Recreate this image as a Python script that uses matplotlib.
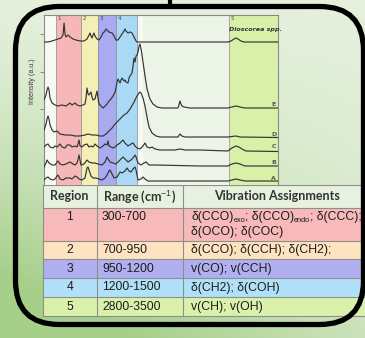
import re
import numpy as np
import matplotlib
matplotlib.use('Agg')
import matplotlib.pyplot as plt
from matplotlib.patches import FancyBboxPatch, Rectangle
from matplotlib.colors import LinearSegmentedColormap

plt.rcParams['mathtext.fontset'] = 'custom'
plt.rcParams['mathtext.rm'] = 'Liberation Sans'
plt.rcParams['mathtext.it'] = 'Liberation Sans:italic'
plt.rcParams['mathtext.bf'] = 'Liberation Sans:bold'

# ---------------- data ----------------
band_edges = [300, 660, 905, 1169, 1468, 2794, 3500]   # drawn bands (cm-1)
band_labels = ['1', '2', '3', '4', None, '5']
band_colors = ['#f5b7b7', '#f4efb4', '#a9abf0', '#a9d9f5', None, '#d9f0a9']

dios_x = [131, 189, 247, 290, 333, 376, 405, 420, 434, 448, 477, 506, 549, 592, 650, 708, 751, 780, 794, 809,
          823, 838, 852, 866, 895, 924, 953, 982, 1011, 1025, 1040, 1068, 1112, 1141, 1169, 1198, 1227, 1256,
          1284, 1299, 1313, 1342, 1371, 1400, 1429, 1458, 1472, 2782, 2826, 2869, 2898, 2927, 2970, 3014, 3500]
dios_y = [142, 142, 143, 144, 145, 146, 149, 161, 150, 147, 149, 147, 145, 144, 143, 143, 145, 149, 151, 148,
          146, 149, 151, 148, 145, 144, 147, 151, 153, 155, 154, 152, 151, 148, 144, 144, 147, 150,
          153, 155, 153, 151, 152, 151, 147, 143, 142, 142, 143, 145, 146, 145, 143, 142, 142]

E_x = [131, 160, 175, 189, 203, 218, 247, 290, 333, 391, 448, 506, 535, 578, 607, 650, 693, 722, 737, 751,
       766, 780, 809, 823, 838, 866, 895, 910, 924, 953, 982, 1011, 1040, 1068, 1097, 1126, 1155, 1169, 1184,
       1198, 1212, 1227, 1241, 1256, 1284, 1299, 1313, 1342, 1357, 1371, 1400, 1414, 1429, 1443, 1458, 1472,
       1486, 1501, 1515, 1530, 1544, 1558, 1587, 1616, 1659, 1702, 1760, 1832, 2062, 2077, 2091, 2106, 2120,
       2149, 2235, 2782, 2840, 2898, 2956, 3028, 3500]
E_y = [84, 89, 94, 97, 94, 86, 81, 79, 78, 79, 78, 81, 79, 81, 79, 78, 79, 80, 86, 96,
       90, 89, 92, 87, 84, 85, 93, 86, 80, 78, 76, 78, 80, 83, 85, 88, 92, 96, 102,
       105, 103, 101, 104, 106, 103, 104, 102, 101, 106, 108, 111, 118, 126, 122, 128, 129,
       132, 138, 140, 135, 129, 122, 108, 95, 85, 80, 77, 76, 76, 79, 83, 80, 78,
       77, 76, 76, 77, 78, 77, 76, 76]

D_x = [131, 160, 175, 189, 203, 218, 247, 275, 319, 362, 434, 506, 578, 650, 722, 766, 823, 881, 939, 982,
       1025, 1068, 1112, 1155, 1198, 1241, 1284, 1328, 1371, 1414, 1443, 1472, 1501, 1515, 1530, 1558, 1587,
       1616, 1645, 1688, 1746, 1803, 2062, 2091, 2120, 2163, 2782, 2840, 2898, 2956, 3500]
D_y = [54, 60, 65, 68, 65, 59, 54, 52, 53, 50, 49, 49, 48, 48, 49, 50, 49, 49, 48, 48,
       50, 53, 56, 60, 63, 66, 69, 71, 75, 80, 84, 88, 91, 92, 91, 86, 78,
       67, 57, 51, 48, 47, 47, 50, 48, 47, 47, 47.5, 48, 47, 46.5]

C_x = [131, 160, 189, 218, 261, 290, 319, 362, 391, 434, 463, 506, 535, 578, 607, 621, 636, 650, 679, 708,
       751, 780, 809, 838, 866, 895, 939, 982, 1011, 1040, 1054, 1068, 1097, 1126, 1155, 1184, 1227, 1256,
       1270, 1299, 1342, 1385, 1414, 1443, 1472, 1515, 1558, 1587, 1616, 1659, 1688, 1731, 1803, 2019, 2091,
       2163, 2307, 2379, 2782, 2840, 2898, 2941, 2985, 3043, 3500]
C_y = [37, 39, 40, 37, 36, 38, 37, 40, 37, 36, 39, 39, 37, 38, 37, 40, 44, 38, 37, 39,
       40, 37, 38, 37, 40, 38, 36, 38, 40, 39, 43, 38, 37, 36, 37, 39, 41, 43,
       44, 41, 38, 40, 41, 38, 36, 35, 38, 41, 37, 36, 37, 35, 34, 34, 35,
       34, 34, 34, 33, 36, 38, 37, 35, 33, 32.5]

B_x = [131, 160, 175, 203, 247, 290, 319, 333, 362, 405, 448, 506, 549, 578, 607, 621, 636, 650, 665, 708,
       751, 780, 823, 866, 910, 967, 1011, 1040, 1054, 1083, 1126, 1169, 1198, 1241, 1270, 1299, 1342, 1385,
       1414, 1443, 1458, 1486, 1530, 1573, 1602, 1645, 1731, 2379, 2782, 2840, 2898, 2956, 3028, 3500]
B_y = [17, 21, 24, 21, 19, 19, 22, 23, 20, 19, 20, 22, 20, 19, 21, 24, 29, 24, 19, 20,
       24, 22, 21, 21, 20, 19, 22, 27, 25, 22, 21, 20, 22, 25, 27, 25, 22, 24,
       26, 29, 27, 21, 19, 21, 22, 19, 19, 18, 18, 20, 21, 20, 18, 18]

A_x = [131, 160, 189, 218, 261, 290, 319, 333, 362, 405, 448, 506, 535, 578, 607, 636, 679, 722, 751, 766,
       780, 809, 838, 881, 924, 967, 1011, 1040, 1068, 1083, 1112, 1141, 1184, 1227, 1256, 1299, 1328, 1357,
       1385, 1414, 1443, 1458, 1486, 1530, 1558, 1587, 1630, 1731, 2782, 2840, 2898, 2956, 3028, 3500]
A_y = [4, 6, 7, 5, 4, 5, 8, 9, 5, 4, 6, 6, 5, 8, 7, 5, 4, 6, 16, 17,
       14, 8, 6, 6, 5, 4, 6, 9, 13, 14, 10, 6, 7, 12, 11, 13, 16, 13,
       12, 15, 17, 14, 4, 5, 7, 5, 3, 3, 3, 4, 5, 4, 3, 3]

spectra = [(dios_x, dios_y, None), (E_x, E_y, 'E'), (D_x, D_y, 'D'),
           (C_x, C_y, 'C'), (B_x, B_y, 'B'), (A_x, A_y, 'A')]
letter_y = {'E': 80, 'D': 50, 'C': 37, 'B': 21, 'A': 6}

tbl_header = ['Region', 'Range (cm$^{-1}$)', 'Vibration Assignments']
tbl_region = ['1', '2', '3', '4', '5']
tbl_range = ['300-700', '700-950', '950-1200', '1200-1500', '2800-3500']
tbl_assign = [['δ(CCO)$_{exo}$; δ(CCO)$_{endo}$; δ(CCC);', 'δ(OCO); δ(COC)'],
              ['δ(CCO); δ(CCH); δ(CH2);'],
              ['v(CO); v(CCH)'],
              ['δ(CH2); δ(COH)'],
              ['v(CH); v(OH)']]
tbl_colors = ['#f7b9b9', '#fde3c0', '#b0b0f1', '#b0e1f8', '#daf1ab']

# ---------------- figure ----------------
W, H = 365, 338
fig = plt.figure(figsize=(W / 100, H / 100), dpi=100)
bg = fig.add_axes([0, 0, 1, 1])
bg.set_xlim(0, W)
bg.set_ylim(H, 0)
bg.axis('off')
renderer = fig.canvas.get_renderer()

yy, xx = np.mgrid[0:H, 0:W]
t = np.clip(((yy / H) ** 1.6) * (1.1 - 0.7 * xx / W) + 0.25 * (1 - xx / W) * (yy / H), 0, 1)
cmap = LinearSegmentedColormap.from_list('g', ['#e4f0dc', '#a6cf8a'])
bg.imshow(t, cmap=cmap, extent=(0, W, H, 0), aspect='auto', vmin=0, vmax=1, zorder=0)

# table
col_x = [42.7, 96.7, 182.7, 366]
row_y = [185, 208, 241, 259, 278, 297, 316]
hdr_font = dict(family='Lato', fontweight='bold', fontsize=9, color='#333333')
body_font = dict(family='Liberation Sans', fontsize=8.8, color='#1c1c1c')
bg.add_patch(Rectangle((col_x[0], row_y[0]), col_x[-1] - col_x[0], row_y[1] - row_y[0],
                       fc='#e7f1e0', ec='none', zorder=2))
for i in range(5):
    bg.add_patch(Rectangle((col_x[0], row_y[i + 1]), col_x[-1] - col_x[0], row_y[i + 2] - row_y[i + 1],
                           fc=tbl_colors[i], ec='none', zorder=2))
for yv in row_y:
    bg.plot([col_x[0], col_x[-1]], [yv, yv], color='#8e8e8e', lw=0.8, zorder=3)
for xv in col_x:
    bg.plot([xv, xv], [row_y[0], row_y[-1]], color='#8e8e8e', lw=0.8, zorder=3)
hy = (row_y[0] + row_y[1]) / 2
bg.text((col_x[0] + col_x[1]) / 2, hy, tbl_header[0], ha='center', va='center', zorder=4, **hdr_font)
bg.text((col_x[1] + col_x[2]) / 2, hy, tbl_header[1], ha='center', va='center', zorder=4, **hdr_font)
bg.text(277, hy, tbl_header[2], ha='center', va='center', zorder=4, **hdr_font)


def rich_text(x, y, s):
    parts = re.split(r'\$_\{(.*?)\}\$', s)
    for k, p in enumerate(parts):
        if not p:
            continue
        if k % 2 == 0:
            tt = bg.text(x, y, p, ha='left', va='baseline', zorder=4, **body_font)
        else:
            tt = bg.text(x, y + 2.2, p, ha='left', va='baseline', zorder=4,
                         family='Liberation Sans', fontsize=5.3, color='#1c1c1c')
        x = tt.get_window_extent(renderer).x1


for i in range(5):
    top, bot = row_y[i + 1], row_y[i + 2]
    lines = tbl_assign[i]
    if len(lines) == 1:
        ys = [(top + bot) / 2]
    else:
        ys = [top + 8.5, top + 23.5]
    bg.text((col_x[0] + col_x[1]) / 2, ys[0], tbl_region[i], ha='center', va='center', zorder=4, **body_font)
    bg.text(102, ys[0], tbl_range[i], ha='left', va='center', zorder=4, **body_font)
    for yv, s in zip(ys, lines):
        rich_text(191, yv + 3.2, s)

# frame
bg.add_patch(FancyBboxPatch((15.5, 6.5), 348, 318, boxstyle='round,pad=0,rounding_size=44',
                            fill=False, ec='black', lw=3.8, zorder=6))
bg.plot([170, 170], [0, 6], color='black', lw=3, zorder=6, solid_capstyle='butt')

# chart
ax = fig.add_axes([44 / W, 1 - 185 / H, (277.7 - 44) / W, (185 - 15) / H], zorder=5)
ax.set_facecolor('#ebf4e6')
ax.set_xlim(131, 3500)
ax.set_ylim(-1, 169)
ax.axvspan(131, band_edges[0], color='#f6faf3', lw=0, zorder=0)
ax.axvspan(band_edges[4], 1560, color='#f6faf3', lw=0, zorder=0)
for i in range(len(band_edges) - 1):
    if band_colors[i] is None:
        continue
    ax.axvspan(band_edges[i], band_edges[i + 1], facecolor=band_colors[i], edgecolor='#8c8c8c', lw=0.5, zorder=1)
    ax.text(band_edges[i] + 25, 166, band_labels[i], fontsize=4, color='#444444', ha='left', va='center', zorder=4)
ax.text(band_edges[5] + 10, 155, 'Dioscorea spp.', fontsize=4.6, fontstyle='italic', fontweight='bold',
        color='#333333', ha='left', va='center', zorder=4)
for xs, ys, lab in spectra:
    ax.plot(xs, ys, color='#333333', lw=0.85, zorder=3)
    if lab:
        ax.text(3445, letter_y[lab], lab, fontsize=4.5, fontweight='bold', color='#555555',
                ha='center', va='center', zorder=4)
for s in ['left', 'top', 'right']:
    ax.spines[s].set_color('#8a8a8a')
    ax.spines[s].set_linewidth(0.8)
ax.spines['bottom'].set_visible(False)
ax.set_xticks([])
ax.set_yticks([75, 112.5, 150])
ax.tick_params(axis='y', length=3, width=0.6, color='#777777', labelleft=False)
fig.text(33 / W, 1 - 81 / H, 'Intensity (a.u.)', rotation=90, ha='center', va='center',
         fontsize=5.1, family='Liberation Sans', color='#3a3a3a')

fig.savefig('out.png', dpi=100)
